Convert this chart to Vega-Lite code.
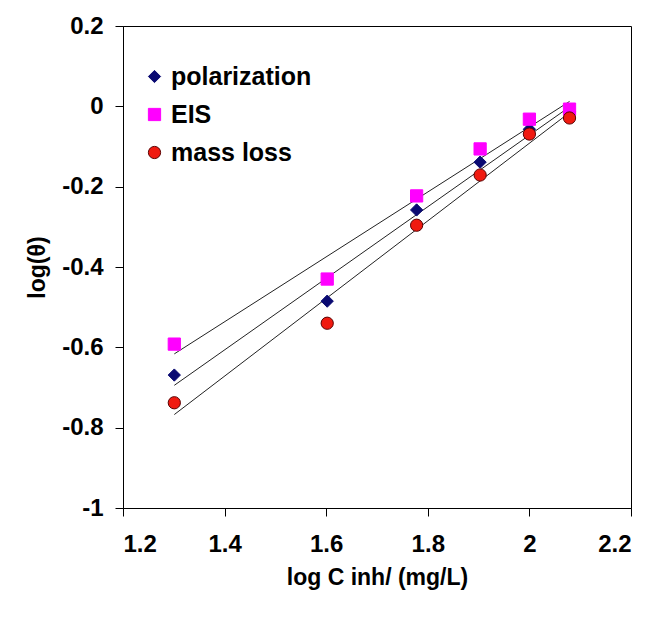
{
  "$schema": "https://vega.github.io/schema/vega-lite/v6.json",
  "width": 508,
  "height": 482,
  "autosize": "none",
  "padding": {"left": 123, "top": 26, "right": 25, "bottom": 111},
  "background": "white",
  "config": {
    "font": "Liberation Sans",
    "view": {"stroke": "black", "strokeWidth": 1},
    "axis": {
      "grid": false,
      "domainColor": "black",
      "tickColor": "black",
      "tickSize": 8,
      "labelFont": "Liberation Sans",
      "labelFontSize": 24,
      "labelFontWeight": "bold",
      "labelColor": "black",
      "titleFont": "Liberation Sans",
      "titleFontSize": 23,
      "titleFontWeight": "bold",
      "titleColor": "black"
    },
    "legend": {
      "labelFont": "Liberation Sans",
      "labelFontSize": 25,
      "labelFontWeight": "bold",
      "labelColor": "black"
    }
  },
  "data": {
    "values": [
      {"x": 1.301, "y": -0.669, "series": "polarization"},
      {"x": 1.602, "y": -0.485, "series": "polarization"},
      {"x": 1.778, "y": -0.258, "series": "polarization"},
      {"x": 1.903, "y": -0.139, "series": "polarization"},
      {"x": 2.0, "y": -0.057, "series": "polarization"},
      {"x": 2.079, "y": -0.014, "series": "polarization"},
      {"x": 1.301, "y": -0.592, "series": "EIS"},
      {"x": 1.602, "y": -0.43, "series": "EIS"},
      {"x": 1.778, "y": -0.223, "series": "EIS"},
      {"x": 1.903, "y": -0.106, "series": "EIS"},
      {"x": 2.0, "y": -0.032, "series": "EIS"},
      {"x": 2.079, "y": -0.007, "series": "EIS"},
      {"x": 1.301, "y": -0.738, "series": "mass loss"},
      {"x": 1.602, "y": -0.54, "series": "mass loss"},
      {"x": 1.778, "y": -0.296, "series": "mass loss"},
      {"x": 1.903, "y": -0.171, "series": "mass loss"},
      {"x": 2.0, "y": -0.069, "series": "mass loss"},
      {"x": 2.079, "y": -0.029, "series": "mass loss"}
    ]
  },
  "encoding": {
    "x": {
      "field": "x",
      "type": "quantitative",
      "scale": {"domain": [1.2, 2.2], "nice": false, "zero": false},
      "axis": {
        "values": [1.2, 1.4, 1.6, 1.8, 2.0, 2.2],
        "title": "log C inh/ (mg/L)",
        "titlePadding": 10,
        "labelPadding": 16,
        "labelExpr": "replace(format(datum.value, '~g'), '\u2212', '-')"
      }
    },
    "y": {
      "field": "y",
      "type": "quantitative",
      "scale": {"domain": [-1, 0.2], "nice": false, "zero": false},
      "axis": {
        "values": [-1, -0.8, -0.6, -0.4, -0.2, 0, 0.2],
        "title": "log(θ)",
        "titlePadding": 12,
        "labelPadding": 12,
        "labelExpr": "replace(format(datum.value, '~g'), '\u2212', '-')"
      }
    }
  },
  "layer": [
    {
      "transform": [{"regression": "y", "on": "x", "groupby": ["series"]}],
      "mark": {"type": "line", "color": "#222222", "strokeWidth": 1},
      "encoding": {"detail": {"field": "series"}}
    },
    {
      "mark": {"type": "point", "filled": true, "opacity": 1, "strokeWidth": 1},
      "encoding": {
        "color": {
          "field": "series",
          "type": "nominal",
          "title": null,
          "scale": {"domain": ["polarization", "EIS", "mass loss"], "range": ["#0a0a72", "#ff00ff", "#f01a10"]},
          "legend": {
            "orient": "none",
            "legendX": 19,
            "legendY": 38,
            "padding": 0,
            "rowPadding": 12,
            "labelOffset": 4,
            "symbolSize": 150,
            "symbolStrokeWidth": 1
          }
        },
        "shape": {
          "field": "series",
          "type": "nominal",
          "title": null,
          "scale": {"domain": ["polarization", "EIS", "mass loss"], "range": ["diamond", "square", "circle"]}
        },
        "stroke": {
          "field": "series",
          "type": "nominal",
          "title": null,
          "scale": {"domain": ["polarization", "EIS", "mass loss"], "range": ["#0a0a72", "#ff00ff", "#5a0000"]}
        },
        "size": {"value": 150}
      }
    }
  ]
}
